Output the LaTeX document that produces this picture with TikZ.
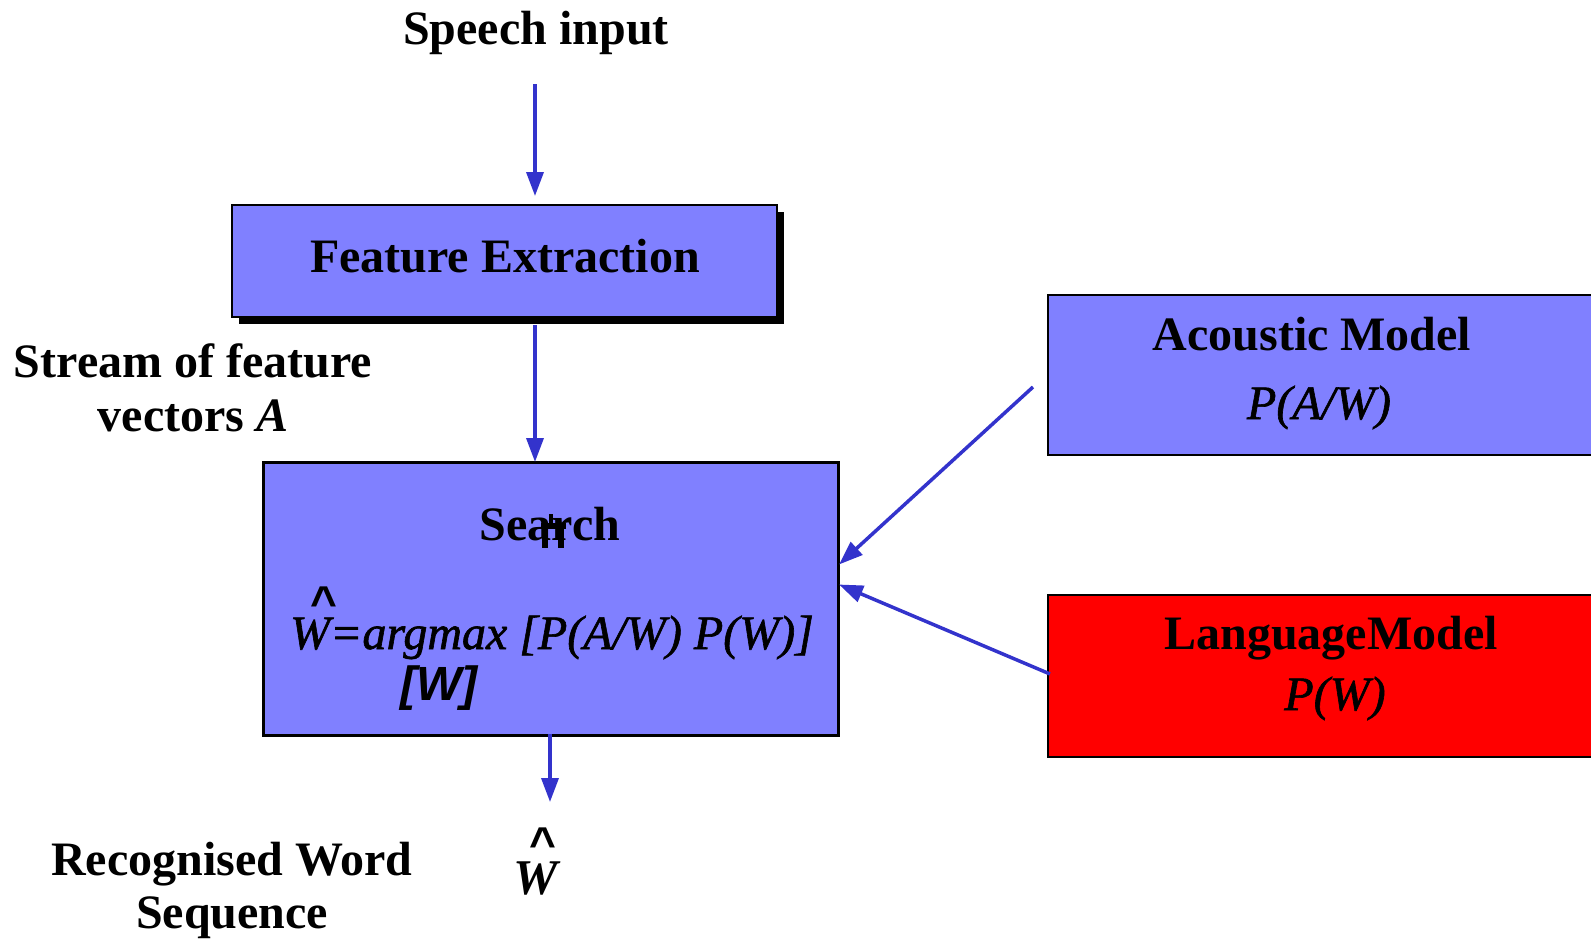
\documentclass[tikz,border=0pt]{standalone}
\usepackage{fontspec}
\setmainfont{Liberation Serif}
\setsansfont{Liberation Sans}
\newfontfamily\heavyserif{Liberation Serif}[FakeBold=1.3]
\usetikzlibrary{arrows.meta,calc}
\definecolor{boxblue}{HTML}{8080FF}
\definecolor{arrowblue}{HTML}{3333CC}
\definecolor{lmred}{HTML}{FF0000}
\tikzset{
  box/.style={draw=black,line width=2.5pt,fill=boxblue,inner sep=0pt,outer sep=0pt,anchor=north west},
  redbox/.style={box,fill=lmred},
  shadowbox/.style={fill=black,draw=none,inner sep=0pt,outer sep=0pt,anchor=north west},
  txt/.style={inner sep=0pt,outer sep=0pt,anchor=base,font=\fontsize{48}{54}\selectfont\bfseries},
  itx/.style={inner sep=0pt,outer sep=0pt,anchor=base,font=\fontsize{48}{54}\selectfont\heavyserif\itshape},
  hat/.style={inner sep=0pt,outer sep=0pt,font=\fontsize{46}{50}\selectfont\sffamily\bfseries},
  flow/.style={draw=arrowblue,line width=3.5pt,-{Triangle[length=24pt,width=17pt]}},
}
\begin{document}
\begin{tikzpicture}[x=1pt,y=-1pt]
\useasboundingbox (0,0) rectangle (1591,938);
% boxes
\node[shadowbox,minimum width=545pt,minimum height=112pt] (feshadow) at (239,212) {};
\node[box,minimum width=545pt,minimum height=112pt] (fe) at (232,205) {};
\node[box,line width=3pt,minimum width=575pt,minimum height=273pt] (search) at (263,462) {};
\node[box,minimum width=600pt,minimum height=160pt] (am) at (1048,295) {};
\node[redbox,minimum width=600pt,minimum height=162pt] (lm) at (1048,595) {};
% texts
\node[txt] (speech) at (536,44) {Speech input};
\node[txt] (fetext) at (505,272) {Feature Extraction};
\node[txt] (stream1) at (193,377) {Stream of feature};
\node[txt] (stream2) at (193,431) {vectors \textit{A}};
\node[txt] (stext) at (550,540) {Search};
\node[itx] (formula) at (552,649) {W=argmax [P(A/W) P(W)]};
\node[inner sep=0pt,anchor=base,font=\fontsize{48}{54}\selectfont\sffamily\bfseries\itshape] (sub) at (439,700) {[W]};
\node[hat] (hat1) at (324,603) {\textasciicircum};
\node[txt] (amtext) at (1312,350) {Acoustic Model};
\node[itx] (pam) at (1319,419) {P(A/W)};
\node[txt] (lmtext) at (1331,649) {LanguageModel};
\node[itx] (plm) at (1335,710) {P(W)};
\node[txt] (rec1) at (232,875) {Recognised Word};
\node[txt] (rec2) at (232,928) {Sequence};
\node[txt,font=\fontsize{50}{54}\selectfont\bfseries\itshape] (what) at (536,894) {W};
\node[hat] (hat2) at (543,844) {\textasciicircum};
% stray glyph over "Search"
\fill (541,523) rectangle (566,529);
\fill (542,523) rectangle (548,548);
\fill (558,523) rectangle (564,548);
\fill (549,514) rectangle (553,523);
% connectors
\coordinate (in) at (535,84);
\coordinate (fein) at (535,196);
\coordinate (feout) at (535,325);
\coordinate (sin) at (535,462);
\coordinate (sout) at (550,734);
\coordinate (out) at (550,802);
\coordinate (amout) at (1033,387);
\coordinate (lmout) at (1050,674);
\draw[flow] (in) -- (fein);
\draw[flow] (feout) -- (sin);
\draw[flow] (sout) -- (out);
\draw[flow] (amout) -- ($(search.east)+(1,-34)$);
\draw[flow] (lmout) -- ($(search.east)+(1,-14)$);
\end{tikzpicture}
\end{document}
